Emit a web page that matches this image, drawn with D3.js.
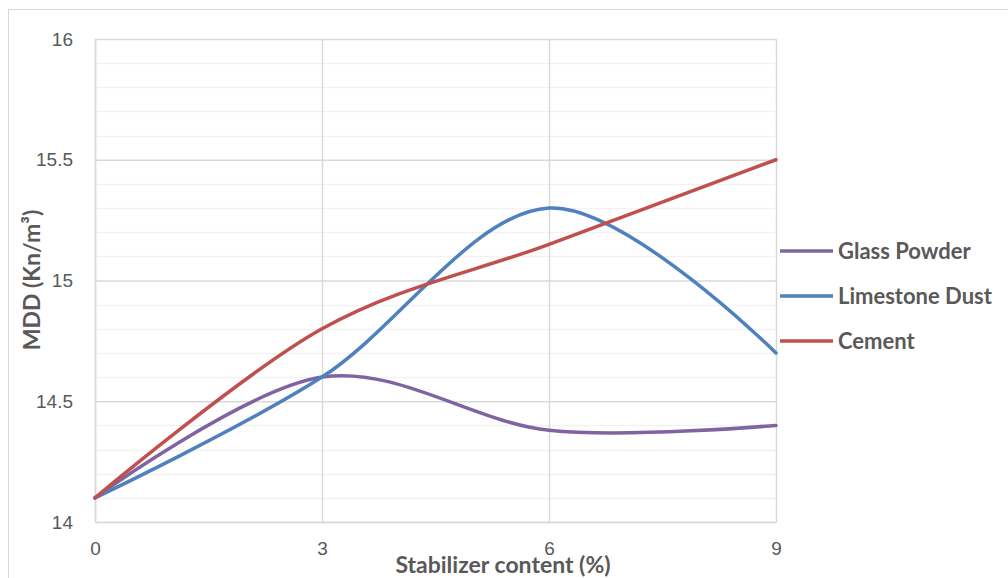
<!DOCTYPE html>
<html>
<head>
<meta charset="utf-8">
<script src="https://cdn.jsdelivr.net/npm/d3@7"></script>
<style>
  body { margin: 0; background: #fff; }
  svg { display: block; font-family: Lato, "Open Sans", sans-serif; }
</style>
</head>
<body>
<svg width="1008" height="578"></svg>
<script>
// data
const xValues = [0, 3, 6, 9];
const glassPowder = [14.1, 14.6, 14.38, 14.4];
const limestoneDust = [14.1, 14.6, 15.3, 14.7];
const cement = [14.1, 14.8, 15.15, 15.5];
const seriesNames = ["Glass Powder", "Limestone Dust", "Cement"];
const seriesColors = ["#8064a2", "#4f81bd", "#c0504d"];
const xTicks = [0, 3, 6, 9];
const yTicks = [14, 14.5, 15, 15.5, 16];

const svg = d3.select("svg"),
      margin = { top: 39, left: 95, right: 232, bottom: 56 },
      width = 1008, height = 578;

const chartWidth = width - margin.left - margin.right;
const chartHeight = height - margin.top - margin.bottom;

// outer frame
svg.append("rect")
  .attr("x", 8.5).attr("y", 9.5)
  .attr("width", 1100).attr("height", 700)
  .attr("fill", "none").attr("stroke", "#d9d9d9");

const g = svg.append("g")
  .attr("transform", `translate(${margin.left},${margin.top})`);

const x = d3.scaleLinear().domain([0, 9]).range([0, chartWidth]);
const y = d3.scaleLinear().domain([14, 16]).range([chartHeight, 0]);

// minor grid
g.append("g")
  .selectAll("line")
  .data(d3.range(14.1, 16, 0.1).filter(v => Math.abs(v * 2 - Math.round(v * 2)) > 0.01))
  .join("line")
  .attr("x1", 0).attr("x2", chartWidth)
  .attr("y1", d => Math.round(y(d)) + 0.5).attr("y2", d => Math.round(y(d)) + 0.5)
  .attr("stroke", "#f2f2f2").attr("stroke-width", 1.5);

// major grid
g.append("g")
  .call(d3.axisLeft(y).tickValues(yTicks).tickSize(-chartWidth).tickFormat(""))
  .call(a => a.select(".domain").remove())
  .selectAll("line").attr("stroke", "#d9d9d9").attr("stroke-width", 1.5);

g.append("g")
  .attr("transform", `translate(0,${chartHeight})`)
  .call(d3.axisBottom(x).tickValues(xTicks).tickSize(-chartHeight).tickFormat(""))
  .call(a => a.select(".domain").remove())
  .selectAll("line").attr("stroke", "#d9d9d9").attr("stroke-width", 1.5);

// axis labels
g.append("g")
  .call(d3.axisLeft(y).tickValues(yTicks).tickSize(0).tickPadding(22).tickFormat(d3.format("")))
  .call(a => a.select(".domain").attr("stroke", "#d9d9d9").attr("stroke-width", 1.5))
  .selectAll("text").attr("fill", "#595959").style("font-size", "19px");

g.append("g")
  .attr("transform", `translate(0,${chartHeight})`)
  .call(d3.axisBottom(x).tickValues(xTicks).tickSize(0).tickPadding(20))
  .call(a => a.select(".domain").attr("stroke", "#d9d9d9").attr("stroke-width", 1.5))
  .selectAll("text").attr("fill", "#595959").style("font-size", "19px");

// lines
const line = d3.line()
  .x((d, i) => x(xValues[i]))
  .y(d => y(d))
  .curve(d3.curveCardinal.tension(0));

[glassPowder, limestoneDust, cement].forEach((vals, i) => {
  g.append("path")
    .datum(vals)
    .attr("fill", "none")
    .attr("stroke", seriesColors[i])
    .attr("stroke-width", 3.5)
    .attr("stroke-linecap", "round")
    .attr("d", line);
});

// titles
svg.append("text")
  .attr("transform", "translate(40,280) rotate(-90)")
  .attr("text-anchor", "middle")
  .attr("fill", "#595959")
  .style("font-size", "23px").style("font-weight", "bold")
  .text("MDD (Kn/m³)");

svg.append("text")
  .attr("x", 503).attr("y", 573)
  .attr("text-anchor", "middle")
  .attr("fill", "#595959")
  .style("font-size", "23px").style("font-weight", "bold")
  .text("Stabilizer content (%)");

// legend
const legend = svg.append("g").attr("transform", "translate(780,251)");
seriesNames.forEach((name, i) => {
  const row = legend.append("g").attr("transform", `translate(0,${i * 45})`);
  row.append("line")
    .attr("x1", 0).attr("x2", 53)
    .attr("stroke", seriesColors[i]).attr("stroke-width", 3.5);
  row.append("text")
    .attr("x", 58).attr("dy", "0.35em")
    .attr("fill", "#595959")
    .style("font-size", "22px").style("font-weight", "bold")
    .text(name);
});
</script>
</body>
</html>
